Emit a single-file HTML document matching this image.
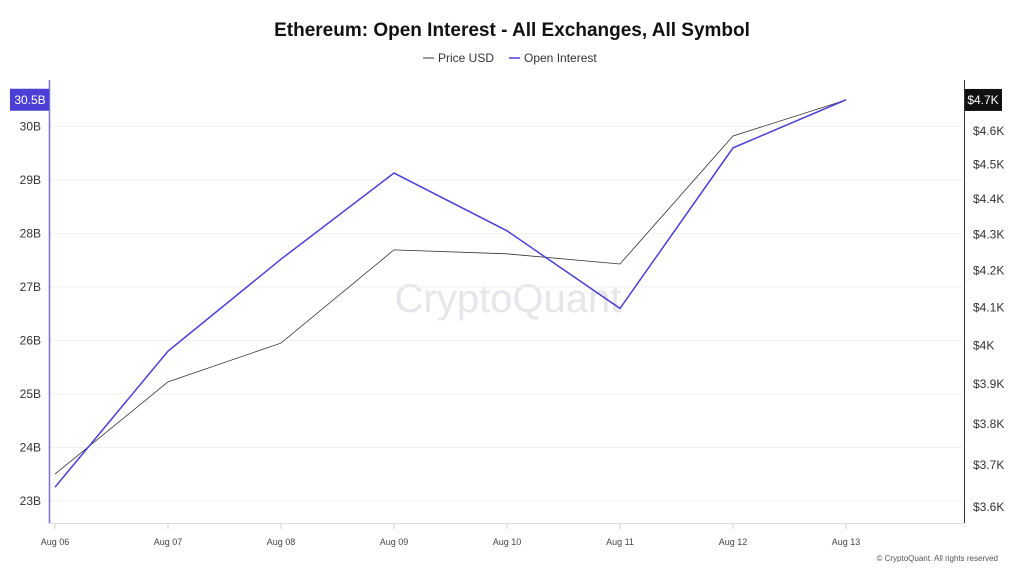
<!DOCTYPE html>
<html><head><meta charset="utf-8"><style>
body{margin:0;background:#fff;font-family:"Liberation Sans",sans-serif}
svg text{font-family:"Liberation Sans",sans-serif}
</style></head><body>
<svg width="1024" height="576" viewBox="0 0 1024 576">
<text x="512" y="36" text-anchor="middle" font-size="19" font-weight="bold" fill="#111">Ethereum: Open Interest - All Exchanges, All Symbol</text>
<g>
<g><line x1="423" y1="58" x2="434" y2="58" stroke="#333" stroke-width="1"/><text x="438" y="62" font-size="12" fill="#333">Price USD</text></g>
<g><line x1="509" y1="58" x2="520" y2="58" stroke="#4b3fd6" stroke-width="1.5"/><text x="524" y="62" font-size="12" fill="#333">Open Interest</text></g>
</g>
<text x="508" y="312" text-anchor="middle" font-size="40" fill="#e6e6ea">CryptoQuant</text>
<g id="grid"></g><g id="axes"></g><g id="series"></g>
<text x="998" y="561" text-anchor="end" font-size="8" fill="#555">© CryptoQuant. All rights reserved</text>
</svg>
<script>
const categories=["Aug 06","Aug 07","Aug 08","Aug 09","Aug 10","Aug 11","Aug 12","Aug 13"];
const openInterest=[23.26,25.8,27.52,29.13,28.05,26.6,29.6,30.5];
const priceUsd=[3678,3906,4006,4257,4246,4218,4585,4694];
const leftTicks=[23,24,25,26,27,28,29,30];
const rightTicks=[3600,3700,3800,3900,4000,4100,4200,4300,4400,4500,4600];
const NS="http://www.w3.org/2000/svg";
function mk(t,a,p){const e=document.createElementNS(NS,t);for(const k in a)e.setAttribute(k,a[k]);p.appendChild(e);return e;}
const xS=i=>55+i*113;
const yL=v=>501-(v-23)*53.5;
const yR=v=>507-1534*Math.log(v/3600);
const grid=document.getElementById('grid'),axes=document.getElementById('axes'),ser=document.getElementById('series');
leftTicks.forEach(t=>{
 const l=mk('line',{x1:50,x2:963,y1:yL(t),y2:yL(t),stroke:'#f2f2f2'},grid);
 
 
 const tx=mk('text',{x:41,y:yL(t)+4,'text-anchor':'end','font-size':12,fill:'#333'},axes);tx.textContent=t+'B';
 
 
});
rightTicks.forEach(t=>{
 const tx=mk('text',{x:973,y:yR(t)+4,'font-size':12,fill:'#333'},axes);tx.textContent='$'+(t%1000===0?(t/1000):(t/1000).toFixed(1))+'K';
 
 
});
let a=mk('line',{x1:49.5,x2:49.5,y1:80,y2:523,stroke:'#7b6fd6','stroke-width':1.5},axes);


a=mk('line',{x1:964.5,x2:964.5,y1:80,y2:523,stroke:'#333'},axes);


a=mk('line',{x1:50,x2:964,y1:523.5,y2:523.5,stroke:'#ddd'},axes);


categories.forEach((c,i)=>{
 mk('line',{x1:xS(i),x2:xS(i),y1:524,y2:529,stroke:'#ccc'},axes);
 const tx=mk('text',{x:xS(i),y:545,'text-anchor':'middle','font-size':9,fill:'#444'},axes);tx.textContent=c;
 
 
});
let p=mk('polyline',{points:priceUsd.map((v,i)=>xS(i)+','+yR(v)).join(' '),fill:'none',stroke:'#333','stroke-width':0.8},ser);


p=mk('polyline',{points:openInterest.map((v,i)=>xS(i)+','+yL(v)).join(' '),fill:'none',stroke:'#4b3fd6','stroke-width':1.5},ser);


const lo=openInterest[openInterest.length-1],lp=priceUsd[priceUsd.length-1];
let r=mk('rect',{x:10,y:yL(lo)-11,width:39,height:22,fill:'#4b3fd6'},axes);


let t=mk('text',{x:30,y:yL(lo)+4,'text-anchor':'middle','font-size':12,fill:'#fff'},axes);t.textContent=lo+'B';
r=mk('rect',{x:965,y:yR(lp)-11,width:37,height:22,fill:'#111'},axes);


t=mk('text',{x:983,y:yR(lp)+4,'text-anchor':'middle','font-size':12,fill:'#fff'},axes);t.textContent='$'+(lp/1000).toFixed(1)+'K';
</script>
</body></html>
